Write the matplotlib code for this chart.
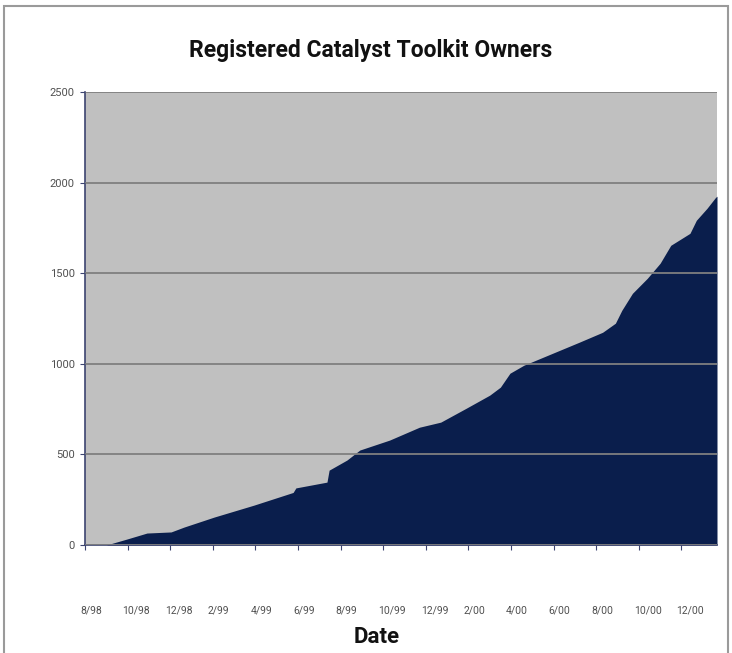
import matplotlib
matplotlib.use("Agg")
import matplotlib.pyplot as plt
from matplotlib.patches import Rectangle
from matplotlib.transforms import ScaledTranslation

# Months since Aug 1998
months = [0, 1.0, 1.97, 2.91, 4.04, 4.65, 6.06, 7.93, 9.77, 9.9, 11.36, 11.46,
          12.3, 12.9, 14.3, 15.7, 16.7, 17.9, 19.0, 19.5, 19.95, 20.6, 21.5,
          23.2, 24.3, 24.9, 25.2, 25.7, 26.4, 27.0, 27.5, 28.1, 28.4, 28.7,
          29.2, 29.6, 29.67]
owners = [0, 0, 33, 66, 72, 99, 154, 220, 290, 315, 347, 413,
          469, 524, 579, 650, 678, 755, 827, 871, 948, 992, 1036,
          1119, 1174, 1224, 1295, 1389, 1472, 1555, 1654, 1698, 1720, 1792,
          1858, 1918, 1925]

tick_months = list(range(0, 29, 2))
tick_labels = ["8/98", "10/98", "12/98", "2/99", "4/99", "6/99", "8/99", "10/99",
               "12/99", "2/00", "4/00", "6/00", "8/00", "10/00", "12/00"]
y_ticks = [0, 500, 1000, 1500, 2000, 2500]

W, H = 732, 653
fig = plt.figure(figsize=(W / 100, H / 100), dpi=100)
fig.patch.set_facecolor("white")

# outer chart border
fig.patches.append(Rectangle((4 / W, -0.05), 724 / W, 1 - 6 / H + 0.05,
                             transform=fig.transFigure, fill=False,
                             edgecolor="#9a9a9a", lw=1.5))

ax = fig.add_axes([85 / W, 1 - 545 / H, (717 - 85) / W, (545 - 92) / H])
ax.set_facecolor("#c0c0c0")
ax.fill_between(months, owners, 0, color="#0a1e4c", lw=0)

ax.set_xlim(0, 29.67)
ax.set_ylim(0, 2500)
ax.set_yticks(y_ticks)
ax.yaxis.grid(True, color="#7f7f7f", lw=1.3)
ax.set_axisbelow(False)
for gl in ax.get_ygridlines():
    gl.set_zorder(0.5)
ax.set_xticks(tick_months)
ax.set_xticklabels(tick_labels)

for s in ["top", "right"]:
    ax.spines[s].set_visible(False)
ax.spines["left"].set_color("#3c4470")
ax.spines["bottom"].set_color("#3c4470")
ax.spines["left"].set_linewidth(1.2)
ax.spines["bottom"].set_linewidth(1.2)

ax.tick_params(axis="y", length=3.5, color="#3c4470", pad=4,
               labelsize=8, labelcolor="#505050")
ax.tick_params(axis="x", length=3.5, color="#3c4470", pad=40,
               labelsize=7.5, labelcolor="#505050")
for lab in ax.get_xticklabels():
    lab.set_horizontalalignment("left")
    lab.set_transform(lab.get_transform() + ScaledTranslation(-5 / 100, 0, fig.dpi_scale_trans))
for lab in ax.get_xticklabels() + ax.get_yticklabels():
    lab.set_family(["Liberation Sans Narrow", "Roboto", "DejaVu Sans"])

fig.text(371 / W, 1 - 50 / H, "Registered Catalyst Toolkit Owners",
         ha="center", va="center", fontsize=16.5, fontweight="bold",
         family=["Roboto", "DejaVu Sans"], color="#111111")
fig.text(377 / W, 1 - 637 / H, "Date", ha="center", va="center",
         fontsize=16, fontweight="bold", family=["Roboto", "DejaVu Sans"],
         color="#111111")

fig.savefig("out.png", dpi=100, facecolor="white")
